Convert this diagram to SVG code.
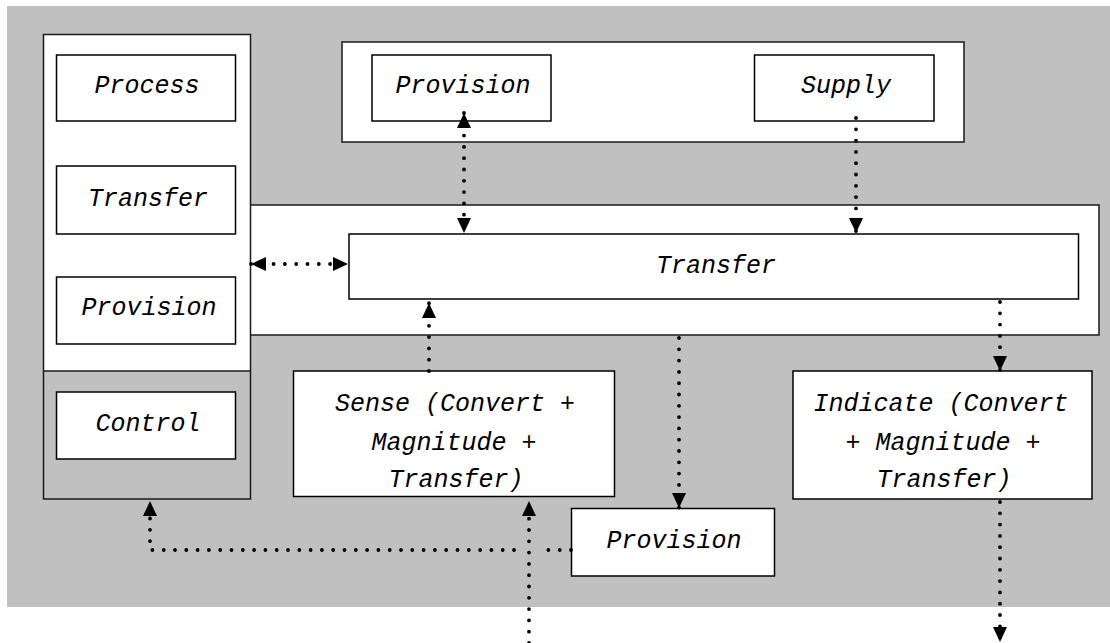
<svg xmlns="http://www.w3.org/2000/svg" width="1110" height="643" viewBox="0 0 1110 643">
<defs>
<style>
.box{fill:#fff;stroke:#000;stroke-width:1.5}
.frame{fill:#fff;stroke:#1a1a1a;stroke-width:1.5}
.lbl{font-family:"Liberation Mono","DejaVu Sans Mono",monospace;font-style:italic;font-size:25px;fill:#000;text-anchor:middle}
.dot{fill:none;stroke:#000;stroke-width:3.8;stroke-linecap:round;stroke-dasharray:0 11.3}
</style>
<marker id="ah" viewBox="0 0 15 14" refX="15" refY="7" markerWidth="15" markerHeight="14" markerUnits="userSpaceOnUse" orient="auto-start-reverse">
<path d="M0,0 L15,7 L0,14 z" fill="#000"/>
</marker>
</defs>
<rect x="0" y="0" width="1110" height="643" fill="#fff"/>
<rect id="background" x="7" y="6" width="1103" height="601" fill="#c0c0c0"/>

<g id="top-frame">
<rect class="frame" x="342" y="42" width="622" height="100"/>
</g>
<g id="middle-frame">
<rect class="frame" x="249" y="205" width="850" height="130"/>
</g>
<g id="left-frame">
<rect x="43.5" y="34.5" width="207" height="336.5" fill="#fff"/>
<rect x="43.5" y="371" width="207" height="128" fill="#c0c0c0"/>
<rect x="43.5" y="34.5" width="207" height="464.5" fill="none" stroke="#1a1a1a" stroke-width="1.5"/>
<line x1="43.5" y1="371" x2="250.5" y2="371" stroke="#1a1a1a" stroke-width="1.5"/>
</g>

<g id="process">
<rect class="box" x="56.5" y="55" width="179" height="66"/>
<text class="lbl" x="147" y="93">Process</text>
</g>
<g id="transfer-left">
<rect class="box" x="56.5" y="166" width="179" height="68"/>
<text class="lbl" x="148" y="206">Transfer</text>
</g>
<g id="provision-left">
<rect class="box" x="56.5" y="277" width="179" height="67"/>
<text class="lbl" x="149" y="315">Provision</text>
</g>
<g id="control">
<rect class="box" x="56.5" y="392" width="179" height="67"/>
<text class="lbl" x="148" y="431">Control</text>
</g>

<g id="provision-top">
<rect class="box" x="372" y="55" width="179" height="66"/>
<text class="lbl" x="463" y="93">Provision</text>
</g>
<g id="supply">
<rect class="box" x="754.5" y="55" width="179.5" height="66"/>
<text class="lbl" x="846" y="93">Supply</text>
</g>

<g id="transfer-main">
<rect class="box" x="349" y="234" width="729.5" height="65"/>
<text class="lbl" x="716" y="273">Transfer</text>
</g>

<g id="sense">
<rect class="box" x="293.5" y="371" width="321" height="125.5"/>
<text class="lbl" x="455" y="411">Sense (Convert +</text>
<text class="lbl" x="454" y="450">Magnitude +</text>
<text class="lbl" x="456" y="487">Transfer)</text>
</g>

<g id="indicate">
<rect class="box" x="793" y="371" width="299" height="128"/>
<text class="lbl" x="941" y="411">Indicate (Convert</text>
<text class="lbl" x="943" y="450">+ Magnitude +</text>
<text class="lbl" x="944" y="487">Transfer)</text>
</g>

<g id="provision-bottom">
<rect class="box" x="571.5" y="508.5" width="203" height="67.5"/>
<text class="lbl" x="674" y="548">Provision</text>
</g>

<g id="connectors">
<path class="dot" d="M464,113 L464,233" marker-start="url(#ah)" marker-end="url(#ah)"/>
<path class="dot" d="M856,118 L856,233" marker-end="url(#ah)"/>
<path class="dot" d="M251,264 L348,264" marker-start="url(#ah)" marker-end="url(#ah)"/>
<path class="dot" d="M429,371 L429,303" marker-end="url(#ah)"/>
<path class="dot" d="M679,338 L679,508" marker-end="url(#ah)"/>
<path class="dot" d="M1000,302 L1000,371" marker-end="url(#ah)"/>
<path class="dot" d="M1000,502 L1000,642" marker-end="url(#ah)"/>
<path class="dot" d="M571,550 L546,550"/>
<path class="dot" d="M514,550 L150,550 L150,501" marker-end="url(#ah)"/>
<path class="dot" d="M529,643 L529,501" marker-end="url(#ah)"/>
</g>
</svg>
